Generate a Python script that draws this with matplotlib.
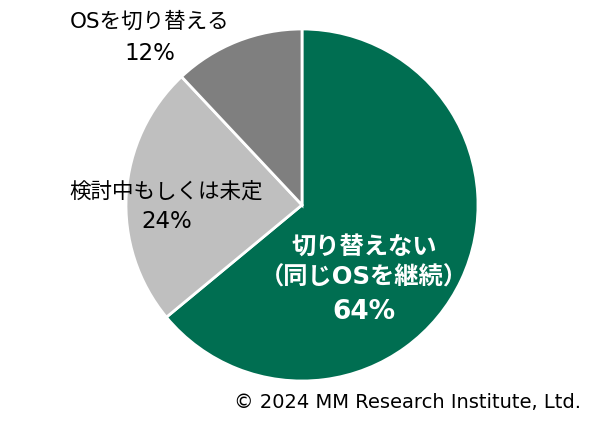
import matplotlib.pyplot as plt

plt.rcParams['font.family'] = ['DejaVu Sans', 'Noto Sans CJK JP']

# slice data (clockwise from top)
labels = ["切り替えない\n（同じOSを継続）", "検討中もしくは未定", "OSを切り替える"]
shares = [64, 24, 12]
colors = ["#006E51", "#BFBFBF", "#7F7F7F"]

fig = plt.figure(figsize=(6.14, 4.30), dpi=100)
ax = fig.add_axes([0, 0, 1, 1])

ax.pie(shares, colors=colors, startangle=90, counterclock=False,
       center=(302, 225), radius=176,
       wedgeprops=dict(edgecolor='white', linewidth=2))

# pie() resets the limits, so set them afterwards
ax.set_xlim(0, 614)
ax.set_ylim(0, 430)
ax.set_aspect('equal')
ax.axis('off')

# labels (pixel positions measured from top)
ax.text(364, 430 - 262, labels[0], ha='center', va='center',
        color='white', fontsize=17.5, fontweight='bold', linespacing=1.4)
ax.text(364, 430 - 312, "%d%%" % shares[0], ha='center', va='center',
        color='white', fontsize=19, fontweight='bold')

ax.text(166, 430 - 191, labels[1], ha='center', va='center', fontsize=15.5)
ax.text(167, 430 - 222, "%d%%" % shares[1], ha='center', va='center', fontsize=16.5)

ax.text(150, 430 - 22, labels[2], ha='center', va='center', fontsize=15.5)
ax.text(150, 430 - 53, "%d%%" % shares[2], ha='center', va='center', fontsize=16.5)

ax.text(581, 430 - 402, "© 2024 MM Research Institute, Ltd.", ha='right', va='center',
        fontsize=14, color='black')

fig.savefig("out.png", dpi=100)
